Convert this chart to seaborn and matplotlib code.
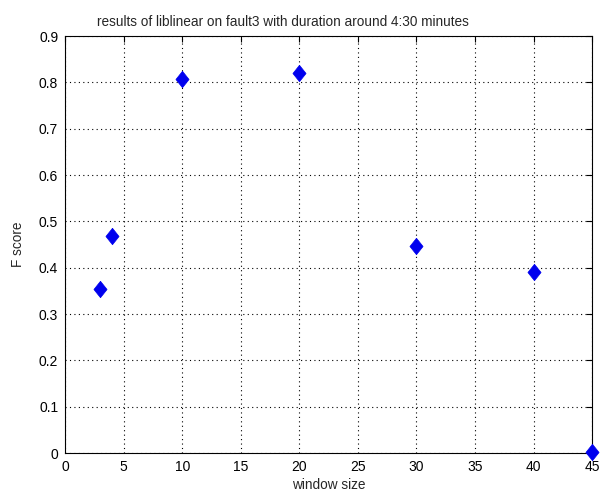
import pandas as pd
import matplotlib
matplotlib.use('Agg')
import matplotlib.pyplot as plt
import seaborn as sns

window_size = [3, 4, 10, 20, 30, 40, 45]
f_score = [0.353, 0.469, 0.807, 0.820, 0.446, 0.390, 0.002]

x_ticks = [0, 5, 10, 15, 20, 25, 30, 35, 40, 45]
y_ticks = [0, 0.1, 0.2, 0.3, 0.4, 0.5, 0.6, 0.7, 0.8, 0.9]

df = pd.DataFrame({'window size': window_size, 'F score': f_score})

sns.set_style('white')
plt.rcParams['font.family'] = ['Liberation Sans', 'DejaVu Sans']

fig = plt.figure(figsize=(6.03, 4.97), dpi=100)
ax = fig.add_axes([0.108, 0.0885, 0.874, 0.839])

# matlab style diamond, a bit taller than wide
diamond = [(0, 1), (0.8, 0), (0, -1), (-0.8, 0), (0, 1)]
sns.scatterplot(data=df, x='window size', y='F score', marker=diamond, s=140,
                color='#0000ee', edgecolor='#0000ee', linewidth=0.5, ax=ax,
                clip_on=False, zorder=5)

ax.set_xlim(0, 45)
ax.set_ylim(0, 0.9)
ax.set_xticks(x_ticks)
ax.set_yticks(y_ticks)
ax.set_yticklabels([f'{v:g}' for v in y_ticks])
ax.grid(True, linestyle=(0, (1, 3)), color='black', linewidth=0.8)
ax.tick_params(direction='in', length=4, top=True, right=True, labelsize=10,
               width=0.8, colors='black', pad=5)
for sp in ax.spines.values():
    sp.set_color('black')
    sp.set_linewidth(0.8)

ax.set_title('results of liblinear on fault3 with duration around 4:30 minutes',
             fontsize=9.8, pad=7, x=0.414)
ax.set_xlabel('window size', fontsize=9.8, labelpad=3)
ax.set_ylabel('F score', fontsize=9.8, labelpad=10)

fig.savefig('out.png', dpi=100)
